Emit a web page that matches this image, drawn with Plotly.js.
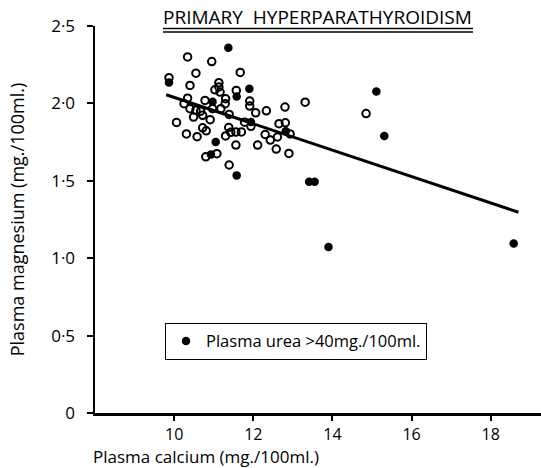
<!DOCTYPE html>
<html>
<head>
<meta charset="utf-8">
<script src="https://cdn.plot.ly/plotly-3.0.1.min.js"></script>
<style>html,body{margin:0;padding:0;background:#fff;}#chart{width:541px;height:468px;}</style>
</head>
<body>
<div id="chart"></div>
<script>
// Plasma calcium (mg/100ml) vs plasma magnesium (mg/100ml), plasma urea <= 40 (open circles)
const openCalcium = [10.34,10.95,10.55,11.67,9.87,10.40,11.13,11.13,11.03,11.16,11.57,10.34,10.78,11.30,11.91,11.91,13.31,10.25,10.40,10.55,10.67,10.97,11.18,11.29,12.06,12.33,12.80,10.49,10.72,10.91,11.39,10.06,11.78,11.94,12.65,12.81,10.31,10.58,10.72,10.81,11.38,11.30,11.43,11.56,11.70,12.30,12.43,12.61,12.93,11.56,12.11,12.58,12.90,10.80,11.08,11.39,14.85];
const openMagnesium = [2.30,2.27,2.195,2.20,2.166,2.116,2.134,2.106,2.088,2.073,2.084,2.034,2.019,2.03,2.015,1.983,2.008,1.998,1.966,1.955,1.95,1.966,1.966,1.998,1.939,1.952,1.976,1.912,1.923,1.895,1.929,1.877,1.879,1.852,1.869,1.875,1.803,1.785,1.842,1.823,1.845,1.79,1.813,1.815,1.816,1.799,1.763,1.783,1.803,1.731,1.731,1.705,1.677,1.655,1.675,1.602,1.934];
// plasma urea > 40 mg/100ml (filled circles)
const highUreaCalcium = [11.37,11.90,10.97,11.94,12.82,11.05,10.93,11.58,9.87,11.58,15.11,15.31,13.41,13.55,13.90,18.58];
const highUreaMagnesium = [2.36,2.095,2.01,1.88,1.82,1.75,1.67,1.535,2.135,2.045,2.077,1.79,1.494,1.494,1.073,1.095];
// regression line
const fitCalcium = [9.8, 18.7];
const fitMagnesium = [2.056, 1.297];
// ticks
const xTickVals = [10, 12, 14, 16, 18];
const xTickText = ["10", "12", "14", "16", "18"];
const yTickVals = [0, 0.5, 1.0, 1.5, 2.0, 2.5];
const yTickText = ["0", "0·5", "1·0", "1·5", "2·0", "2·5"];

const FONT = "Open Sans, Noto Sans, sans-serif";

const traces = [
  {x: fitCalcium, y: fitMagnesium, mode: "lines", type: "scatter",
   line: {color: "#000", width: 3}, showlegend: false, hoverinfo: "skip"},
  {x: openCalcium, y: openMagnesium, mode: "markers", type: "scatter",
   marker: {symbol: "circle-open", size: 7.5, color: "#000", line: {width: 2, color: "#000"}},
   showlegend: false},
  {x: highUreaCalcium, y: highUreaMagnesium, mode: "markers", type: "scatter",
   name: "Plasma urea >40mg./100ml.",
   marker: {symbol: "circle", size: 8.5, color: "#000"}}
];

const layout = {
  width: 541, height: 468,
  margin: {l: 95, r: 0, t: 26, b: 55},
  paper_bgcolor: "#fff", plot_bgcolor: "#fff",
  font: {family: FONT, size: 17, color: "#000"},
  showlegend: true,
  legend: {x: 0.157, y: 0.233, xanchor: "left", yanchor: "top",
           bordercolor: "#000", borderwidth: 1, bgcolor: "#fff",
           font: {family: FONT, size: 16.5, color: "#000"}, itemwidth: 30},
  xaxis: {range: [8, 19.27], tickvals: xTickVals, ticktext: xTickText,
          showline: true, linecolor: "#000", linewidth: 2.5, ticks: "outside",
          ticklen: 5, tickwidth: 2, tickcolor: "#000", showgrid: false, zeroline: false,
          tickfont: {family: FONT, size: 16}, ticklabelstandoff: 0, fixedrange: true},
  yaxis: {range: [0, 2.5], tickvals: yTickVals, ticktext: yTickText,
          showline: true, linecolor: "#000", linewidth: 2.5, ticks: "outside",
          ticklen: 6, tickwidth: 2, tickcolor: "#000", showgrid: false, zeroline: false,
          tickfont: {family: FONT, size: 17}, ticklabelstandoff: 8,
          title: {text: "Plasma magnesium (mg./100ml.)", font: {family: FONT, size: 18}, standoff: 22},
          fixedrange: true},
  annotations: [
    {text: "PRIMARY  HYPERPARATHYROIDISM", xref: "paper", yref: "paper",
     x: (317 - 95) / 446, y: (413 - 17) / 387, xanchor: "center", yanchor: "middle",
     showarrow: false, font: {family: FONT, size: 19, color: "#000"}},
    {text: "Plasma calcium (mg./100ml.)", xref: "paper", yref: "paper",
     x: (91 - 95) / 446, y: (413 - 457) / 387, xanchor: "left", yanchor: "middle",
     showarrow: false, font: {family: FONT, size: 17, color: "#000"}}
  ],
  shapes: [
    {type: "line", xref: "paper", yref: "paper",
     x0: (163 - 95) / 446, x1: (473 - 95) / 446, y0: (413 - 28.5) / 387, y1: (413 - 28.5) / 387,
     line: {color: "#000", width: 1.5}},
    {type: "line", xref: "paper", yref: "paper",
     x0: (163 - 95) / 446, x1: (473 - 95) / 446, y0: (413 - 32) / 387, y1: (413 - 32) / 387,
     line: {color: "#000", width: 1.5}}
  ]
};

Plotly.newPlot("chart", traces, layout, {staticPlot: true, displayModeBar: false});
</script>
</body>
</html>
